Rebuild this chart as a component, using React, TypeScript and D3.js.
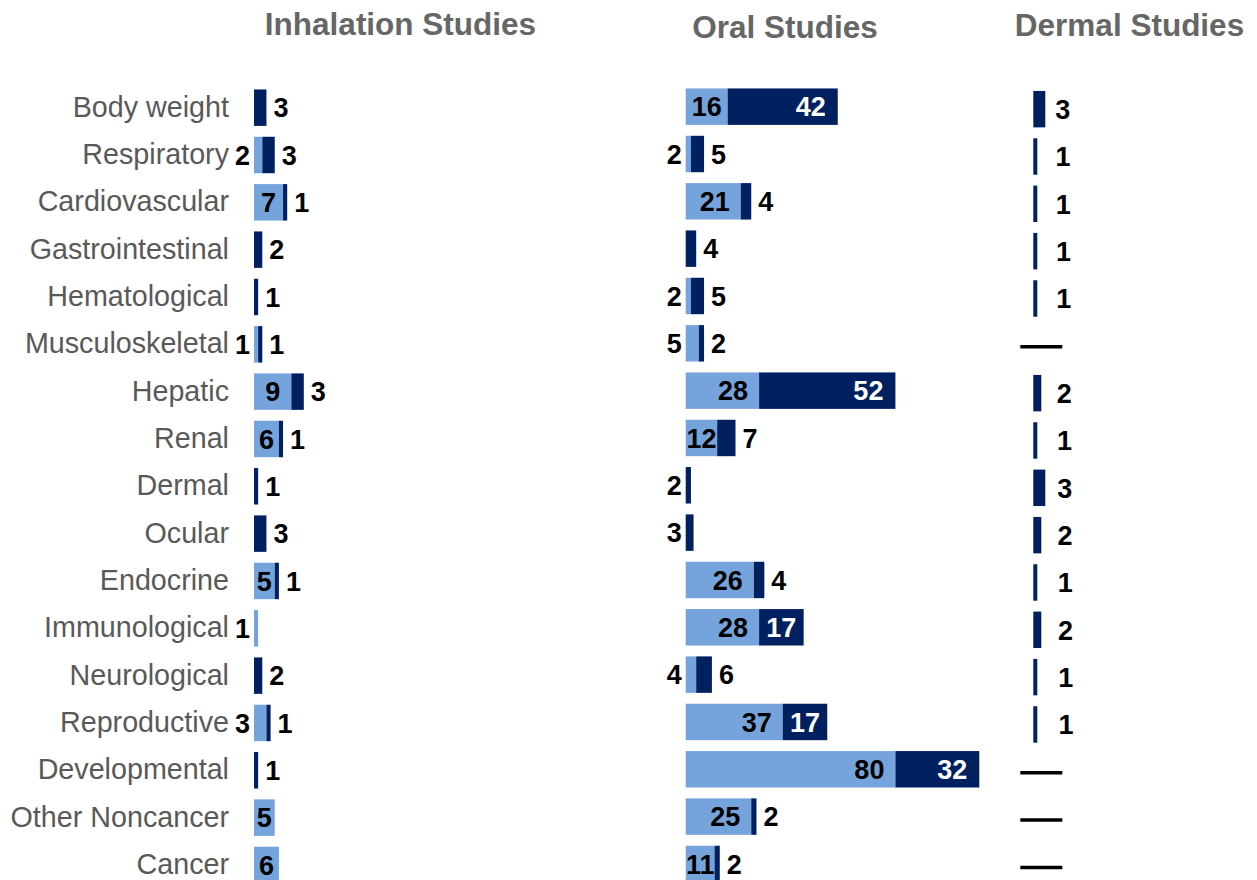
import React from "react";
import * as d3 from "d3";

const categories = [
  "Body weight", "Respiratory", "Cardiovascular", "Gastrointestinal", "Hematological",
  "Musculoskeletal", "Hepatic", "Renal", "Dermal", "Ocular", "Endocrine", "Immunological",
  "Neurological", "Reproductive", "Developmental", "Other Noncancer", "Cancer",
];
const inhalLight = [0, 2, 7, 0, 0, 1, 9, 6, 0, 0, 5, 1, 0, 3, 0, 5, 6];
const inhalDark = [3, 3, 1, 2, 1, 1, 3, 1, 1, 3, 1, 0, 2, 1, 1, 0, 0];
const oralLight = [16, 2, 21, 0, 2, 5, 28, 12, 0, 0, 26, 28, 4, 37, 80, 25, 11];
const oralDark = [42, 5, 4, 4, 5, 2, 52, 7, 2, 3, 4, 17, 6, 17, 32, 2, 2];
const oralDarkLabelLeft = ["Dermal", "Ocular"];
const dermalDark = [3, 1, 1, 1, 1, 0, 2, 1, 3, 2, 1, 2, 1, 1, 0, 0, 0];
const titles = ["Inhalation Studies", "Oral Studies", "Dermal Studies"];

const W = 1257;
const H = 880;
const LIGHT = "#75A4DC";
const DARK = "#002060";
const VFS = 27;
const FONT = "'Liberation Sans', Arial, sans-serif";

const y = d3
  .scaleBand<string>()
  .domain(categories)
  .range([83, 83 + 47.33 * categories.length])
  .paddingInner(0.23)
  .paddingOuter(0.115);

const xInhal = d3.scaleLinear().domain([0, 10]).range([254, 295.5]);
const xOral = d3.scaleLinear().domain([0, 112]).range([685.7, 979.3]);
const xDermal = d3.scaleLinear().domain([0, 3]).range([1033.3, 1045.3]);

const textW = (v: number) => String(v).length * 0.556 * VFS;

type Lbl = { x: number; anchor: string; fill: string; text: string };

function lightLabel(v: number, x: d3.ScaleLinear<number, number>): Lbl | null {
  if (v <= 0) return null;
  const x0 = x(0);
  const w = x(v) - x0;
  const tw = textW(v);
  if (w > 17) {
    const pad = Math.max(0, Math.min(11, (w - tw) / 2));
    return { x: x(v) - pad, anchor: "end", fill: "#000", text: String(v) };
  }
  return { x: x0 - 4, anchor: "end", fill: "#000", text: String(v) };
}

function darkLabel(v: number, base: number, x: d3.ScaleLinear<number, number>, left: boolean): Lbl | null {
  if (v <= 0) return null;
  const s = x(base);
  const e = x(base + v);
  const w = e - s;
  const tw = textW(v);
  if (left) return { x: x(0) - 4, anchor: "end", fill: "#000", text: String(v) };
  if (w >= 30) {
    const pad = Math.max(0, Math.min(12, (w - tw) / 2));
    return { x: e - pad, anchor: "end", fill: "#fff", text: String(v) };
  }
  return { x: e + 7, anchor: "start", fill: "#000", text: String(v) };
}

function StackPanel({ light, dark, x, dy, leftList }: {
  light: number[]; dark: number[]; x: d3.ScaleLinear<number, number>; dy: number; leftList: string[];
}) {
  const bh = y.bandwidth();
  return (
    <g>
      {categories.map((c, i) => {
        const top = (y(c) as number) + dy;
        const cy = top + bh / 2;
        const l = light[i];
        const d = dark[i];
        const ll = lightLabel(l, x);
        const dl = darkLabel(d, l, x, leftList.includes(c));
        return (
          <g key={c}>
            {l > 0 && <rect x={x(0)} y={top} width={x(l) - x(0)} height={bh} fill={LIGHT} />}
            {d > 0 && <rect x={x(l)} y={top} width={x(l + d) - x(l)} height={bh} fill={DARK} />}
            {[ll, dl].filter(Boolean).map((t, k) => (
              <text
                key={k}
                x={t!.x}
                y={cy + VFS * 0.36}
                textAnchor={t!.anchor as any}
                fill={t!.fill}
                fontFamily={FONT}
                fontWeight="bold"
                fontSize={VFS}
              >
                {t!.text}
              </text>
            ))}
          </g>
        );
      })}
    </g>
  );
}

function DermalPanel({ x, dy }: { x: d3.ScaleLinear<number, number>; dy: number }) {
  const bh = y.bandwidth();
  return (
    <g>
      {categories.map((c, i) => {
        const top = (y(c) as number) + dy;
        const cy = top + bh / 2;
        const v = dermalDark[i];
        if (v <= 0) {
          return (
            <line key={c} x1={x(0) - 13} x2={x(0) + 29} y1={cy + 1} y2={cy + 1} stroke="#000" strokeWidth={3.5} />
          );
        }
        return (
          <g key={c}>
            <rect x={x(0)} y={top} width={x(v) - x(0)} height={bh} fill={DARK} />
            <text x={x(0) + 22 + i * 0.25} y={cy + VFS * 0.36} fontFamily={FONT} fontWeight="bold" fontSize={VFS} fill="#000">
              {v}
            </text>
          </g>
        );
      })}
    </g>
  );
}

export default function App() {
  return (
    <svg
      width={W}
      height={H}
      style={{ position: "absolute", left: 0, top: 0, background: "#fff" }}
    >
      <rect width={W} height={H} fill="#fff" />
      <text x={400.5} y={35} textAnchor="middle" fontFamily={FONT} fontWeight="bold" fontSize={31.5} fill="#666">
        {titles[0]}
      </text>
      <text x={785} y={38} textAnchor="middle" fontFamily={FONT} fontWeight="bold" fontSize={31.5} fill="#666">
        {titles[1]}
      </text>
      <text x={1129.5} y={36} textAnchor="middle" fontFamily={FONT} fontWeight="bold" fontSize={31.5} fill="#666">
        {titles[2]}
      </text>
      {categories.map((c) => (
        <text
          key={c}
          x={229}
          y={(y(c) as number) + y.bandwidth() / 2 + 10}
          textAnchor="end"
          fontFamily={FONT}
          fontSize={28.7}
          fill="#595959"
        >
          {c}
        </text>
      ))}
      <StackPanel light={inhalLight} dark={inhalDark} x={xInhal} dy={1} leftList={[]} />
      <StackPanel light={oralLight} dark={oralDark} x={xOral} dy={0} leftList={oralDarkLabelLeft} />
      <DermalPanel x={xDermal} dy={2.5} />
    </svg>
  );
}
